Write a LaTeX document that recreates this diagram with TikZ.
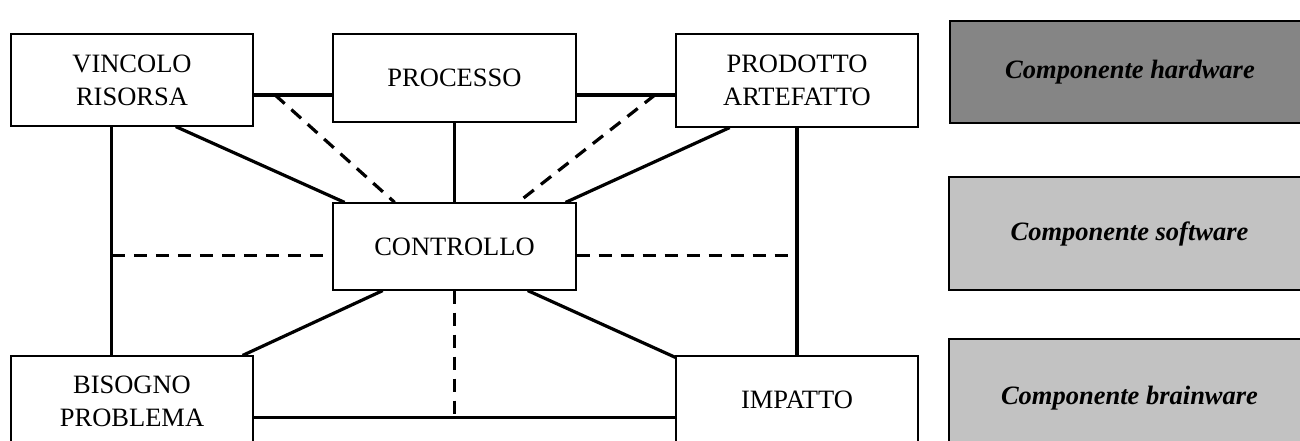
\documentclass[tikz,border=0pt]{standalone}
\usepackage{fontspec}
\setmainfont{Liberation Serif}
\usetikzlibrary{calc,patterns}
\begin{document}
\begin{tikzpicture}[x=1pt,y=-1pt,
  box/.style={draw=black,line width=1.2pt,fill=white,inner sep=0pt,align=center,
    font=\fontsize{26.5}{33}\selectfont},
  compbox/.style={draw=black,line width=1.5pt,inner sep=0pt,align=center,
    font=\fontsize{26.5}{33}\selectfont\bfseries\itshape},
  conn/.style={line width=3.2pt},
  dconn/.style={line width=3.2pt,dash pattern=on 13pt off 9pt}]
\useasboundingbox (0,0) rectangle (1300,441);
% main boxes
\node[box,minimum width=242pt,minimum height=92pt] (vin) at (132,80) {VINCOLO\\RISORSA};
\node[box,minimum width=243pt,minimum height=88pt] (proc) at (454.5,78) {PROCESSO};
\node[box,minimum width=242pt,minimum height=93pt] (prod) at (797,80.5) {PRODOTTO\\ARTEFATTO};
\node[box,minimum width=243pt,minimum height=87pt] (ctrl) at (454.5,246.5) {CONTROLLO};
\node[box,minimum width=242pt,minimum height=91pt] (bis) at (132,401.5) {BISOGNO\\PROBLEMA};
\node[box,minimum width=242pt,minimum height=88pt] (imp) at (797,400) {IMPATTO};
% component boxes
\node[compbox,fill=black!48,minimum width=360pt,minimum height=102pt] (hw) at (1130,72) {Componente hardware};
\node[compbox,fill=black!24,minimum width=361pt,minimum height=113pt] (sw) at (1129.5,233.5) {Componente software};
\node[compbox,fill=black!24,minimum width=361pt,minimum height=118pt] (bw) at (1129.5,398) {Componente brainware};
% junction coordinates
\coordinate (vr) at ($(vin.north east)!0.66!(vin.south east)$);
\coordinate (j1) at (275,0 |- vr);
\coordinate (j2) at (655,0 |- vr);
\coordinate (vl) at ($(vin.south west)!0.417!(vin.south east)$);
\coordinate (cl) at ($(ctrl.north west)!0.6!(ctrl.south west)$);
\coordinate (cr) at ($(ctrl.north east)!0.6!(ctrl.south east)$);
\coordinate (bb) at ($(bis.north east)!0.67!(bis.south east)$);
\begin{scope}[on background layer/.style={}]
% solid connectors
\draw[conn] (vr) -- (vr -| proc.west);
\draw[conn] (vr -| proc.east) -- (vr -| prod.west);
\draw[conn] (vl) -- (vl |- bis.north);
\draw[conn] (prod.south) -- (imp.north);
\draw[conn] ($(vin.south west)!0.68!(vin.south east)$) -- ($(ctrl.north west)!0.05!(ctrl.north east)$);
\draw[conn] (proc.south) -- (ctrl.north);
\draw[conn] ($(prod.south west)!0.223!(prod.south east)$) -- ($(ctrl.north west)!0.955!(ctrl.north east)$);
\draw[conn] ($(ctrl.south west)!0.206!(ctrl.south east)$) -- ($(bis.north west)!0.955!(bis.north east)$);
\draw[conn] ($(ctrl.south west)!0.8!(ctrl.south east)$) -- ($(imp.north west)+(0,2)$);
\draw[conn] (bb) -- (bb -| imp.west);
% dashed connectors
\draw[dconn] (j1) -- ($(ctrl.north west)!0.255!(ctrl.north east)$);
\draw[dconn] (j2) -- ($(ctrl.north west)!0.76!(ctrl.north east)$);
\draw[dconn] (cl -| vl) -- (cl);
\draw[dconn] (cr) -- (cr -| prod.south);
\draw[dconn] (ctrl.south) -- (ctrl.south |- bb);
\end{scope}
\end{tikzpicture}
\end{document}
